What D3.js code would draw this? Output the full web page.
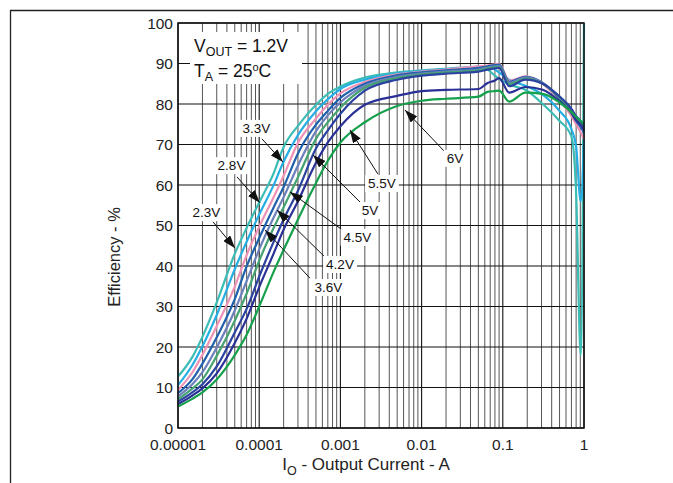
<!DOCTYPE html>
<html lang="en">

<head>
  <meta charset="UTF-8">
  <title>Efficiency vs Output Current</title>
  <script src="https://cdn.jsdelivr.net/npm/d3@7/dist/d3.min.js"></script>
  <style>
    html,
    body {
      margin: 0;
      background: #fff;
    }

    svg {
      display: block;
      font-family: 'Liberation Sans', Arial, sans-serif;
    }
  </style>
</head>

<body>
  <script>
    // canvas
    const width = 673
    const height = 483
    const margin = { left: 178, right: 89, top: 23, bottom: 55 }

    // data: output current (A) and efficiency (%) per input voltage
    const currents = [1e-5, 1.5e-5, 2e-5, 3e-5, 5e-5, 7e-5, 1e-4, 1.5e-4, 2e-4, 3e-4, 5e-4, 7e-4, 1e-3, 2e-3, 5e-3,
      1e-2, 2e-2, 5e-2, 0.065, 0.08, 0.09, 0.12, 0.19, 0.31, 0.49, 0.7, 0.8, 0.91, 1]
    const seriesNames = ['2.3V', '2.8V', '3.3V', '3.6V', '4.2V', '4.5V', '5V', '5.5V', '6V']
    const eff2v3 = [12.7, 17.5, 22.5, 31, 43, 49.4, 55.7, 62.8, 69.4, 74.6, 79.8, 82.5, 84.3, 86.5, 87.8, 88.3, 88.7, 89.2, 88.5, 87, 86.2, 84.8, 83.5, 80, 76, 72, 58, 18, 100]
    const eff2v8 = [10.6, 15.5, 20.2, 27.9, 39.2, 46, 52.7, 59.9, 65.8, 72.3, 78.2, 81.2, 83.7, 86, 87.5, 88.1, 88.6, 89.2, 89.3, 88.5, 87.8, 86, 84.5, 82.3, 78.5, 73.8, 69.5, 56, 71]
    const eff3v3 = [9.4, 13.7, 18.1, 25.2, 34.9, 42.7, 49.7, 56.9, 62.3, 70.4, 76.4, 79.8, 82.6, 85.4, 87.3, 88, 88.5, 89.3, 89.5, 89.8, 89.9, 85.8, 86.8, 85, 81, 77, 75, 73, 71.3]
    const eff3v6 = [8.6, 12, 15.9, 22.4, 31.8, 39.9, 46.9, 54.4, 59.5, 67.8, 74.9, 78.3, 81.5, 85, 87.1, 87.8, 88.3, 88.9, 89.3, 89.6, 89.7, 85.5, 86.7, 85.2, 81.5, 77.8, 75.8, 74.3, 73]
    const eff4v2 = [7.8, 10.8, 13.8, 19.9, 29, 36.3, 44.1, 51.9, 57, 64.8, 73.3, 77.2, 80.4, 84.5, 86.7, 87.5, 88, 88.5, 89, 89.3, 89.4, 85.2, 86.5, 85.2, 81.8, 78.2, 76.3, 74.8, 73.5]
    const eff4v5 = [7.1, 9.7, 12, 17.8, 26.5, 33.2, 41.3, 49.3, 54.5, 61.9, 71.4, 75.5, 79.1, 84, 86.4, 87.3, 87.8, 88.3, 88.8, 89.1, 89.2, 84.9, 86.3, 85, 81.8, 78.5, 76.8, 75.3, 74]
    const eff5v0 = [6.5, 8.8, 10.8, 15.2, 23.6, 29.4, 37.4, 45.9, 51.5, 58.6, 69, 73.5, 77.6, 83.3, 86, 87, 87.5, 88, 88.5, 88.8, 88.9, 84.4, 86, 85, 82, 78.8, 77, 75.8, 74.5]
    const eff5v5 = [5.9, 8, 9.8, 13.5, 21, 27, 34.8, 43, 49, 56, 65.5, 70.5, 74.5, 79.8, 82, 83.2, 83.5, 83.7, 85.2, 85.8, 86.4, 82.8, 84.2, 83.5, 80.8, 77.8, 76, 74.8, 73.5]
    const eff6v0 = [5.3, 7.2, 8.8, 12, 18, 23, 30, 38.5, 44, 51.5, 60.5, 66, 70.5, 75.5, 79.5, 80.8, 81.3, 81.8, 83, 83.2, 83.3, 80.6, 82.8, 82.5, 80.5, 78, 76.8, 75.8, 75]
    const seriesValues = [eff2v3, eff2v8, eff3v3, eff3v6, eff4v2, eff4v5, eff5v0, eff5v5, eff6v0]
    const seriesColors = ['#3bbdb6', '#25aee3', '#ee92b6', '#2160ad', '#6c80bb', '#45a272', '#2b42a0', '#2a3196', '#15a04b']

    // ticks
    const yTicks = [0, 10, 20, 30, 40, 50, 60, 70, 80, 90, 100]
    const xTicks = [1e-5, 1e-4, 1e-3, 1e-2, 1e-1, 1]
    const xTickLabels = ['0.00001', '0.0001', '0.001', '0.01', '0.1', '1']

    // annotations (label, label centre, arrow tail, arrow tip) in data units
    const annLabels = ['2.3V', '2.8V', '3.3V', '3.6V', '4.2V', '4.5V', '5V', '5.5V', '6V']
    const annLabelAt = [[2.24e-5, 53.3], [4.56e-5, 64.9], [9.26e-5, 74.1], [7.13e-4, 34.8], [9.89e-4, 40.5],
      [1.62e-3, 47.2], [2.32e-3, 53.8], [3.25e-3, 60.5], [2.58e-2, 66.7]]
    const annTail = [[2.7e-5, 50.9], [5.33e-5, 62], [1.08e-4, 71.4], [4.22e-4, 37], [6.46e-4, 42.2],
      [1.11e-3, 48.6], [1.74e-3, 55.8], [2.9e-3, 62.7], [1.89e-2, 68.4]]
    const annTip = [[5.04e-5, 44.4], [1.02e-4, 55.6], [1.96e-4, 65.7], [1.18e-4, 48.9], [1.66e-4, 53.8],
      [2.39e-4, 58.3], [4.6e-4, 67.4], [1.31e-3, 73.6], [6.25e-3, 78.5]]

    const svg = d3.select('body').append('svg')
      .attr('width', width)
      .attr('height', height)

    // page frame
    svg.append('path')
      .attr('d', `M10.5,${height} V10.5 H${width}`)
      .attr('fill', 'none')
      .attr('stroke', '#222')
      .attr('stroke-width', 1.3)

    // scales
    const x = d3.scaleLog().domain([1e-5, 1]).range([margin.left, width - margin.right])
    const y = d3.scaleLinear().domain([0, 100]).range([height - margin.bottom, margin.top])

    // minor vertical grid
    const minors = []
    for (let e = -5; e < 0; e++) {
      for (let k = 2; k <= 9; k++) minors.push(k * Math.pow(10, e))
    }
    svg.append('g').selectAll('line')
      .data(minors)
      .enter()
      .append('line')
      .attr('x1', d => x(d)).attr('x2', d => x(d))
      .attr('y1', y(0)).attr('y2', y(100))
      .attr('stroke', '#555')
      .attr('stroke-width', 1)

    // major grid
    svg.append('g').selectAll('line')
      .data(xTicks)
      .enter()
      .append('line')
      .attr('x1', d => x(d)).attr('x2', d => x(d))
      .attr('y1', y(0)).attr('y2', y(100))
      .attr('stroke', '#111')
      .attr('stroke-width', 1.1)

    svg.append('g').selectAll('line')
      .data(yTicks)
      .enter()
      .append('line')
      .attr('x1', x(1e-5)).attr('x2', x(1))
      .attr('y1', d => y(d)).attr('y2', d => y(d))
      .attr('stroke', '#111')
      .attr('stroke-width', 1.1)

    // legend box (covers grid)
    const legend = svg.append('g')
    legend.append('rect')
      .attr('x', 190).attr('y', 32)
      .attr('width', 112).attr('height', 52)
      .attr('fill', '#fff')
    const t1 = legend.append('text').attr('x', 194).attr('y', 52)
      .attr('font-size', 17.5).attr('fill', '#111')
    t1.append('tspan').text('V')
    t1.append('tspan').attr('font-size', 12.5).attr('dy', 4).text('OUT')
    t1.append('tspan').attr('dy', -4).text(' = 1.2V')
    const t2 = legend.append('text').attr('x', 194).attr('y', 77)
      .attr('font-size', 17.5).attr('fill', '#111')
    t2.append('tspan').text('T')
    t2.append('tspan').attr('font-size', 12.5).attr('dy', 4).text('A')
    t2.append('tspan').attr('dy', -4).text(' = 25')
    t2.append('tspan').attr('font-size', 11).attr('dy', -6).text('o')
    t2.append('tspan').attr('dy', 6).text('C')

    // curves
    const line = d3.line()
      .x(d => x(d[0]))
      .y(d => y(d[1]))
      .curve(d3.curveMonotoneX)

    svg.append('g').selectAll('path')
      .data(seriesValues)
      .enter()
      .append('path')
      .attr('d', vals => line(currents.map((c, i) => [c, vals[i]])))
      .attr('fill', 'none')
      .attr('stroke', (d, i) => seriesColors[i])
      .attr('stroke-width', 2.2)
      .attr('stroke-linejoin', 'round')

    // plot border
    svg.append('rect')
      .attr('x', x(1e-5)).attr('y', y(100))
      .attr('width', x(1) - x(1e-5)).attr('height', y(0) - y(100))
      .attr('fill', 'none')
      .attr('stroke', '#111')
      .attr('stroke-width', 1.5)

    // arrows
    svg.append('defs').append('marker')
      .attr('id', 'head')
      .attr('viewBox', '0 0 13 9')
      .attr('refX', 13).attr('refY', 4.5)
      .attr('markerWidth', 13).attr('markerHeight', 9)
      .attr('markerUnits', 'userSpaceOnUse')
      .attr('orient', 'auto')
      .append('path')
      .attr('d', 'M0,0 L13,4.5 L0,9 Z')
      .attr('fill', '#111')

    svg.append('g').selectAll('line')
      .data(annLabels)
      .enter()
      .append('line')
      .attr('x1', (d, i) => x(annTail[i][0])).attr('y1', (d, i) => y(annTail[i][1]))
      .attr('x2', (d, i) => x(annTip[i][0])).attr('y2', (d, i) => y(annTip[i][1]))
      .attr('stroke', '#111')
      .attr('stroke-width', 1)
      .attr('marker-end', 'url(#head)')

    // labels with white boxes
    const labels = svg.append('g').selectAll('g')
      .data(annLabels)
      .enter()
      .append('g')
    labels.append('rect').attr('fill', '#fff')
    labels.append('text')
      .attr('x', (d, i) => x(annLabelAt[i][0]))
      .attr('y', (d, i) => y(annLabelAt[i][1]) + 5)
      .attr('text-anchor', 'middle')
      .attr('font-size', 13.5)
      .attr('fill', '#111')
      .text(d => d)
    labels.each(function () {
      const g = d3.select(this)
      const b = g.select('text').node().getBBox()
      g.select('rect')
        .attr('x', b.x - 3).attr('y', b.y - 1)
        .attr('width', b.width + 6).attr('height', b.height + 2)
    })

    // y tick labels
    svg.append('g').selectAll('text')
      .data(yTicks)
      .enter()
      .append('text')
      .attr('x', x(1e-5) - 5)
      .attr('y', d => y(d) + 5.5)
      .attr('text-anchor', 'end')
      .attr('font-size', 15.5)
      .attr('fill', '#222')
      .text(d => d)

    // x tick labels
    svg.append('g').selectAll('text')
      .data(xTicks)
      .enter()
      .append('text')
      .attr('x', d => x(d))
      .attr('y', y(0) + 22)
      .attr('text-anchor', 'middle')
      .attr('font-size', 15.5)
      .attr('fill', '#222')
      .text((d, i) => xTickLabels[i])

    // axis titles
    svg.append('text')
      .attr('transform', 'translate(120, 257) rotate(-90)')
      .attr('text-anchor', 'middle')
      .attr('font-size', 16.5)
      .attr('fill', '#222')
      .text('Efficiency - %')

    const xt = svg.append('text')
      .attr('x', 366)
      .attr('y', 470)
      .attr('text-anchor', 'middle')
      .attr('font-size', 17)
      .attr('fill', '#222')
    xt.append('tspan').text('I')
    xt.append('tspan').attr('font-size', 12.5).attr('dy', 5).text('O')
    xt.append('tspan').attr('dy', -5).text(' - Output Current - A')
  </script>
</body>

</html>
